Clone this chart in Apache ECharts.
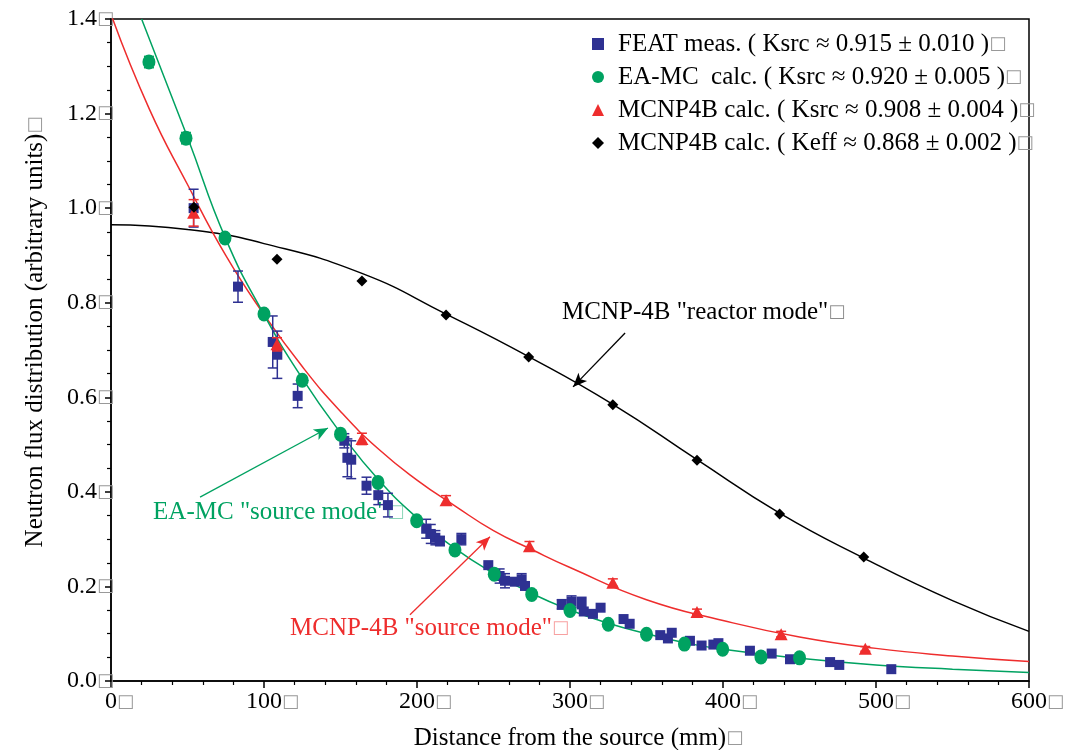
<!DOCTYPE html>
<html>
<head>
<meta charset="utf-8">
<script src="https://cdn.jsdelivr.net/npm/echarts@6/dist/echarts.min.js"></script>
<style>
  html, body { margin: 0; padding: 0; background: #fff; }
  #chart { width: 1077px; height: 750px; }
</style>
</head>
<body>
<div id="chart"></div>
<script>
// tick labels
const xTickLabels = ['0', '100', '200', '300', '400', '500', '600'];
const yTickLabels = ['0.0', '0.2', '0.4', '0.6', '0.8', '1.0', '1.2', '1.4'];

// FEAT measurements: distance, flux, error
const featX = [54, 83, 105.7, 108.7, 122, 152.5, 154.5, 157, 167, 174.7, 181, 206, 209, 212, 215, 229,
  246.6, 254, 257.5, 264, 268.4, 270.6, 294.6, 301, 307.6, 309, 315, 320, 335, 339, 359, 364, 366.5,
  378.4, 386, 393.7, 397, 417.6, 431.8, 443.8, 470, 476, 510];
const featY = [1.00, 0.834, 0.717, 0.69, 0.603, 0.508, 0.472, 0.468, 0.413, 0.393, 0.372, 0.322, 0.311, 0.303, 0.296, 0.300,
  0.245, 0.222, 0.212, 0.210, 0.215, 0.201, 0.162, 0.168, 0.165, 0.147, 0.142, 0.155, 0.131, 0.121, 0.097, 0.090, 0.102,
  0.085, 0.075, 0.077, 0.080, 0.064, 0.058, 0.046, 0.040, 0.034, 0.025];
const featErr = [0.04, 0.033, 0.055, 0.05, 0.025, 0.015, 0.04, 0.04, 0.018, 0.02, 0.025, 0.02, 0.02, 0.015, 0.01, 0.012,
  0, 0.015, 0.015, 0, 0.012, 0, 0.01, 0.012, 0.012, 0, 0, 0, 0, 0, 0, 0, 0,
  0, 0, 0, 0, 0, 0, 0, 0, 0, 0];

// EA-MC calculation
const eamcX = [24.8, 49, 74.5, 100, 125, 150, 174.5, 199.8, 224.8, 250.5, 275, 300, 325, 350, 374.8, 399.8, 424.8, 450];
const eamcY = [1.309, 1.148, 0.937, 0.776, 0.636, 0.522, 0.42, 0.339, 0.277, 0.226, 0.183, 0.149, 0.12, 0.099, 0.078, 0.067, 0.051, 0.049];
const eamcErr = [0.012, 0.012, 0.008, 0, 0, 0, 0, 0, 0, 0, 0, 0, 0, 0, 0, 0, 0, 0];

// MCNP4B source mode
const mcnpSrcX = [54, 108.5, 164, 219, 273.5, 328, 383, 438, 493];
const mcnpSrcY = [0.99, 0.712, 0.512, 0.382, 0.285, 0.208, 0.146, 0.099, 0.068];
const mcnpSrcErr = [0.028, 0.014, 0.012, 0.01, 0.01, 0.008, 0.006, 0.006, 0.005];

// MCNP4B reactor mode
const mcnpKeffX = [54.2, 108.5, 164, 219, 273, 328, 383, 437, 492];
const mcnpKeffY = [1.002, 0.892, 0.846, 0.774, 0.685, 0.584, 0.467, 0.353, 0.262];

// fitted curves
const eamcCurveX = [20, 50, 75, 100, 125, 150, 175, 200, 225, 250, 275, 300, 325, 350, 375, 400, 450, 500, 550, 600];
const eamcCurveY = [1.40, 1.15, 0.935, 0.775, 0.64, 0.525, 0.425, 0.345, 0.28, 0.228, 0.185, 0.15, 0.122, 0.10, 0.081, 0.067, 0.048, 0.034, 0.025, 0.018];
const srcCurveX = [0, 25, 50, 75, 100, 125, 150, 175, 200, 225, 250, 275, 300, 350, 400, 450, 500, 550, 600];
const srcCurveY = [1.41, 1.21, 1.05, 0.90, 0.775, 0.665, 0.57, 0.49, 0.425, 0.37, 0.318, 0.278, 0.24, 0.172, 0.128, 0.093, 0.069, 0.053, 0.041];
const keffCurveX = [0, 50, 100, 164, 219, 273, 328, 383, 437, 492, 550, 600];
const keffCurveY = [0.965, 0.955, 0.925, 0.862, 0.776, 0.686, 0.585, 0.468, 0.355, 0.26, 0.17, 0.105];

const BLUE = '#2E3192';
const GREEN = '#00A261';
const RED = '#EE2D2D';
const BLACK = '#000000';
const FONT = 'Liberation Serif';

function zip(xs, ys, es) {
  return xs.map((x, i) => es ? [x, ys[i], es[i]] : [x, ys[i]]);
}

function errorBars(color) {
  return function (params, api) {
    const x = api.value(0), y = api.value(1), e = api.value(2);
    if (!e) return null;
    const top = api.coord([x, y + e]);
    const bot = api.coord([x, y - e]);
    const w = 5;
    const style = { stroke: color, lineWidth: 1.5 };
    return {
      type: 'group',
      children: [
        { type: 'line', shape: { x1: top[0], y1: top[1], x2: bot[0], y2: bot[1] }, style: style },
        { type: 'line', shape: { x1: top[0] - w, y1: top[1], x2: top[0] + w, y2: top[1] }, style: style },
        { type: 'line', shape: { x1: bot[0] - w, y1: bot[1], x2: bot[0] + w, y2: bot[1] }, style: style }
      ]
    };
  };
}

const box = { color: '#999', fontFamily: 'DejaVu Sans', fontSize: 18 };
const hidden = { color: 'transparent', fontFamily: 'DejaVu Sans', fontSize: 18 };

const names = [
  'FEAT meas. ( Ksrc \u2248 0.915 \u00b1 0.010 )',
  'EA-MC  calc. ( Ksrc \u2248 0.920 \u00b1 0.005 )',
  'MCNP4B calc. ( Ksrc \u2248 0.908 \u00b1 0.004 )',
  'MCNP4B calc. ( Keff \u2248 0.868 \u00b1 0.002 )'
];
const legendIcons = ['rect', 'circle', 'triangle', 'diamond'];

function arrow(from, to, color) {
  return {
    silent: true,
    symbol: ['none', 'arrow'],
    symbolSize: [9, 14],
    label: { show: false },
    lineStyle: { color: color, width: 1.3, type: 'solid' },
    data: [[{ coord: from }, { coord: to }]]
  };
}

const option = {
  animation: false,
  grid: {
    left: 111, right: 48, top: 19, bottom: 69,
    outerBoundsMode: 'none',
    containLabel: false,
    show: true, borderColor: '#000', borderWidth: 1.5
  },
  legend: {
    orient: 'vertical',
    left: 587,
    top: 26,
    itemWidth: 12,
    itemHeight: 12,
    itemGap: 7,
    data: names.map((n, i) => ({ name: n, icon: legendIcons[i] })),
    formatter: n => n + '{b|\u25a1}',
    textStyle: {
      fontFamily: FONT, fontSize: 25, color: '#000', lineHeight: 26,
      padding: [0, 0, 0, 9], rich: { b: box }
    }
  },
  xAxis: {
    type: 'value',
    min: 0, max: 600, interval: 100,
    name: '{s|\u25a1}Distance from the source (mm){b|\u25a1}',
    nameLocation: 'middle',
    nameGap: 45,
    nameTextStyle: { fontFamily: FONT, fontSize: 25, color: '#000', rich: { b: box, s: hidden } },
    axisLine: { lineStyle: { color: '#000', width: 1.5 } },
    axisTick: { length: 7, lineStyle: { color: '#000', width: 1.5 } },
    minorTick: { show: true, splitNumber: 5, length: 4, lineStyle: { color: '#000', width: 1.2 } },
    splitLine: { show: false },
    axisLabel: {
      margin: 9,
      fontFamily: FONT, fontSize: 24, color: '#000',
      formatter: v => '{s|\u25a1}' + xTickLabels[Math.round(v / 100)] + '{b|\u25a1}',
      rich: { b: box, s: hidden }
    }
  },
  yAxis: {
    type: 'value',
    min: 0, max: 1.4, interval: 0.2,
    name: 'Neutron flux distribution (arbitrary units){b|\u25a1}',
    nameLocation: 'middle',
    nameGap: 63,
    nameTextStyle: { fontFamily: FONT, fontSize: 25, color: '#000', padding: [0, 0, 0, 36], rich: { b: box } },
    axisLine: { lineStyle: { color: '#000', width: 1.5 } },
    axisTick: { length: 6, lineStyle: { color: '#000', width: 1.5 } },
    minorTick: { show: true, splitNumber: 4, length: 4, lineStyle: { color: '#000', width: 1.2 } },
    splitLine: { show: false },
    axisLabel: {
      margin: -3,
      fontFamily: FONT, fontSize: 24, color: '#000',
      formatter: v => yTickLabels[Math.round(v / 0.2)] + '{b|\u25a1}',
      rich: { b: box }
    }
  },
  series: [
    {
      type: 'line', data: zip(keffCurveX, keffCurveY), smooth: true, showSymbol: false,
      lineStyle: { color: BLACK, width: 1.5 }, silent: true, z: 2,
      markLine: arrow([336, 0.736], [302, 0.622], BLACK)
    },
    {
      type: 'line', data: zip(srcCurveX, srcCurveY), smooth: true, showSymbol: false,
      lineStyle: { color: RED, width: 1.5 }, silent: true, z: 2,
      markLine: arrow([195.4, 0.14], [247.7, 0.305], RED)
    },
    {
      type: 'line', data: zip(eamcCurveX, eamcCurveY), smooth: true, showSymbol: false,
      lineStyle: { color: GREEN, width: 1.5 }, silent: true, z: 2,
      markLine: arrow([58.2, 0.389], [141.8, 0.535], GREEN)
    },
    { type: 'custom', data: zip(featX, featY, featErr), renderItem: errorBars(BLUE), z: 3, silent: true },
    {
      name: names[0], type: 'scatter', data: zip(featX, featY),
      symbol: 'rect', symbolSize: 10, itemStyle: { color: BLUE, opacity: 1 }, z: 4
    },
    { type: 'custom', data: zip(mcnpSrcX, mcnpSrcY, mcnpSrcErr), renderItem: errorBars(RED), z: 5, silent: true },
    {
      name: names[2], type: 'scatter', data: zip(mcnpSrcX, mcnpSrcY),
      symbol: 'triangle', symbolSize: [13, 12], itemStyle: { color: RED, opacity: 1 }, z: 6
    },
    { type: 'custom', data: zip(eamcX, eamcY, eamcErr), renderItem: errorBars(GREEN), z: 7, silent: true },
    {
      name: names[1], type: 'scatter', data: zip(eamcX, eamcY),
      symbol: 'circle', symbolSize: [13, 15], itemStyle: { color: GREEN, opacity: 1 }, z: 8
    },
    {
      name: names[3], type: 'scatter', data: zip(mcnpKeffX, mcnpKeffY),
      symbol: 'diamond', symbolSize: 11, itemStyle: { color: BLACK, opacity: 1 }, z: 9
    }
  ]
};

const chart = echarts.init(document.getElementById('chart'));
chart.setOption(option);

// annotation texts anchored in data space
const notes = [
  { text: 'MCNP-4B "reactor mode"', at: [294.8, 0.78], color: BLACK },
  { text: 'EA-MC "source mode"', at: [27.5, 0.357], color: GREEN },
  { text: 'MCNP-4B "source mode"', at: [117, 0.112], color: RED }
];
chart.setOption({
  graphic: notes.map(n => {
    const p = chart.convertToPixel({ gridIndex: 0 }, n.at);
    return {
      type: 'text', x: p[0], y: p[1], silent: true,
      style: {
        text: n.text + '{b|\u25a1}',
        fill: n.color, font: '25px "Liberation Serif"',
        verticalAlign: 'middle', align: 'left',
        rich: { b: { fill: n.color, opacity: 0.45, fontFamily: 'DejaVu Sans', fontSize: 18 } }
      }
    };
  })
});
window.addEventListener('resize', () => chart.resize());
</script>
</body>
</html>
